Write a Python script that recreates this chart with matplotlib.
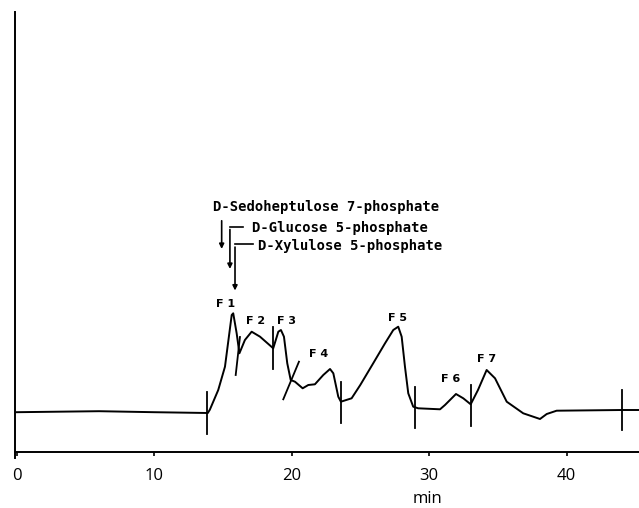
import numpy as np
import matplotlib.pyplot as plt

# chromatogram trace (time in min, detector signal in arbitrary units)
time = [0, 3, 6, 10, 13.9, 14.05, 14.66, 15.15, 15.64, 15.75, 16.0, 16.2,
        16.6, 17.09, 17.7, 18.66, 19.03, 19.22, 19.44, 19.68, 19.93, 20.24,
        20.8, 21.21, 21.69, 22.3, 22.79, 23.03, 23.39, 23.58, 24.36, 24.99,
        25.93, 26.79, 27.39, 27.75, 28.0, 28.24, 28.48, 28.84, 29.2, 30.79,
        31.15, 31.95, 32.48, 33.02, 33.55, 34.18, 34.79, 35.64, 36.84, 38.06,
        38.55, 39.27, 44.02, 45.3]
signal = [39.5, 40.0, 40.5, 39.5, 38.7, 42.0, 61.7, 85.0, 136.7, 138.4, 118.4,
          98.4, 111.7, 120.0, 115.0, 103.4, 120.0, 121.7, 115.0, 88.4, 71.7,
          70.0, 63.4, 66.7, 67.4, 76.7, 82.7, 78.4, 55.0, 50.0, 53.4, 66.7,
          88.4, 108.4, 121.7, 125.0, 115.0, 85.0, 58.4, 45.0, 43.4, 42.4, 46.7,
          57.7, 53.4, 47.4, 61.7, 81.7, 73.4, 50.0, 38.4, 32.7, 37.7, 41.0,
          41.7, 41.7]

# integration marks: (t_top, v_top, t_bottom, v_bottom)
marks = [(13.87, 59.7, 13.87, 17.7), (16.24, 114.7, 15.93, 76.7),
         (18.66, 124.4, 18.66, 82.4), (20.53, 90.0, 19.39, 52.4),
         (23.58, 69.7, 23.58, 28.7), (28.97, 65.0, 28.97, 24.0),
         (33.02, 66.7, 33.02, 25.7), (44.02, 61.7, 44.02, 21.7)]

peak_names = ["F 1", "F 2", "F 3", "F 4", "F 5", "F 6", "F 7"]
peak_t = [15.22, 17.4, 19.59, 21.99, 27.73, 31.59, 34.21]
peak_v = [147.7, 130.7, 130.7, 97.7, 134.0, 72.7, 92.7]

xticks = [0, 10, 20, 30, 40]

fig = plt.figure(figsize=(6.39, 5.08), dpi=100)
ax = fig.add_axes([15 / 639, 56.3 / 508, 624 / 639, 451.7 / 508])
ax.set_xlim(-0.12, 45.26)
ax.set_ylim(0, 451.7)

ax.plot(time, signal, color="black", lw=1.4)
for t1, v1, t2, v2 in marks:
    ax.plot([t1, t2], [v1, v2], color="black", lw=1.3)

for name, t, v in zip(peak_names, peak_t, peak_v):
    ax.text(t, v, name, ha="center", va="center", fontsize=8,
            fontweight="bold")

# standards
mono = dict(family="DejaVu Sans Mono", fontweight="bold", fontsize=10,
            va="center", ha="left")
ax.text(14.28, 244.7, "D-Sedoheptulose 7-phosphate", **mono)
ax.text(17.09, 223.7, "D-Glucose 5-phosphate", **mono)
ax.text(17.57, 206.0, "D-Xylulose 5-phosphate", **mono)

arr = dict(arrowstyle="-|>", color="black", lw=1.2, mutation_scale=7)
ax.annotate("", xy=(14.91, 200), xytext=(14.91, 233.7), arrowprops=arr)
ax.plot([16.48, 15.51], [225, 225], color="black", lw=1.2)
ax.annotate("", xy=(15.51, 180), xytext=(15.51, 225), arrowprops=arr)
ax.plot([17.21, 15.88], [207.4, 207.4], color="black", lw=1.2)
ax.annotate("", xy=(15.88, 158.4), xytext=(15.88, 207.4), arrowprops=arr)

# axes
for s in ["top", "right", "left"]:
    ax.spines[s].set_visible(False)
ax.spines["bottom"].set_linewidth(1.4)
ax.plot([-0.12, -0.12], [-6.3, 439.7], color="black", lw=1.4, clip_on=False)
ax.set_yticks([])
ax.set_xticks(xticks)
ax.set_xticklabels([str(x) for x in xticks], family="Open Sans", fontsize=12)
ax.tick_params(axis="x", direction="out", length=3, width=1.2, pad=9)

fig.text(427 / 639, 1 - 499 / 508, "min", ha="center", va="center",
         family="Open Sans", fontsize=12)

fig.savefig("out.png", dpi=100)
